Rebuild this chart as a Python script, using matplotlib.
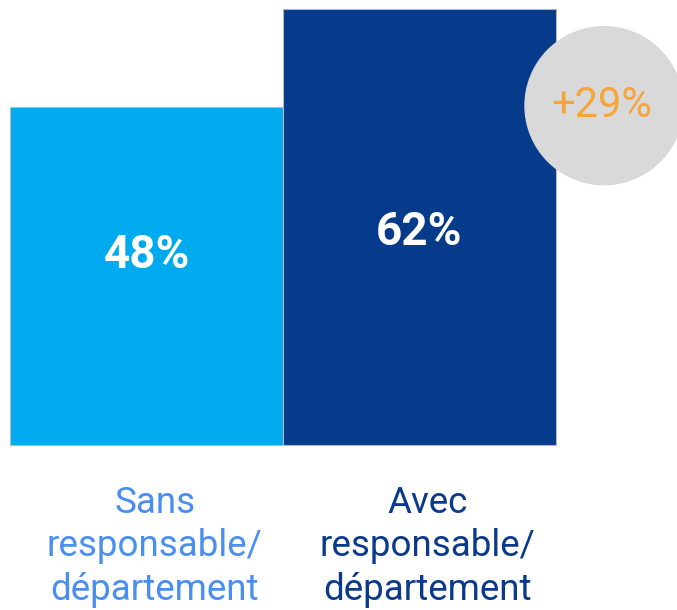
import matplotlib.pyplot as plt
from matplotlib.patches import Ellipse

plt.rcParams['font.family'] = ['Roboto', 'DejaVu Sans']

categories = ['Sans\nresponsable/\ndépartement', 'Avec\nresponsable/\ndépartement']
values = [48, 62]
value_labels = ['48%', '62%']
increase_label = '+29%'

bar_colors = ['#00aaee', '#063a8a']
label_colors = ['#4a8ff0', '#0b3a8c']

W, H = 677, 610
fig = plt.figure(figsize=(W / 100, H / 100), dpi=100)
ax = fig.add_axes([0, 0, 1, 1])

# pixel scale: bar width 273 px, 7.04 px per percent
bw_px, ypx = 273.0, 7.04
x0_px, base_px = 10.0, 165.0
ax.set_xlim(-x0_px / bw_px, (W - x0_px) / bw_px)
ax.set_ylim(-base_px / ypx, (H - base_px) / ypx)
ax.axis('off')

xs = range(len(values))
ax.bar(xs, values, width=1.0, align='edge', color=bar_colors,
       edgecolor='#b8b8b8', linewidth=0.8, zorder=2)

label_y = [values[0] * 0.5 + 3.0, values[1] * 0.5 - 0.7]
for i, v in enumerate(values):
    ax.text(i + 0.5, label_y[i], value_labels[i],
            ha='center', va='center', color='white', fontsize=33,
            fontweight='bold', zorder=4)

# circle showing the increase, to the right of the second bar
r_px = 79
cx = len(values) + 48 / bw_px
cy = values[0] + 0.2
circ = Ellipse((cx, cy), 2 * r_px / bw_px, 2 * r_px / ypx,
               color='#d9d9d9', zorder=3, clip_on=False)
ax.add_patch(circ)
ax.text(cx - 2 / bw_px, cy, increase_label, ha='center', va='center',
        color='#f5a53c', fontsize=30, zorder=4)

for i, lab in enumerate(categories):
    ax.text(i + 0.53, -14.4, lab, ha='center', va='center', color=label_colors[i],
            fontsize=26.5, linespacing=1.26)

fig.savefig('out.png', dpi=100)
